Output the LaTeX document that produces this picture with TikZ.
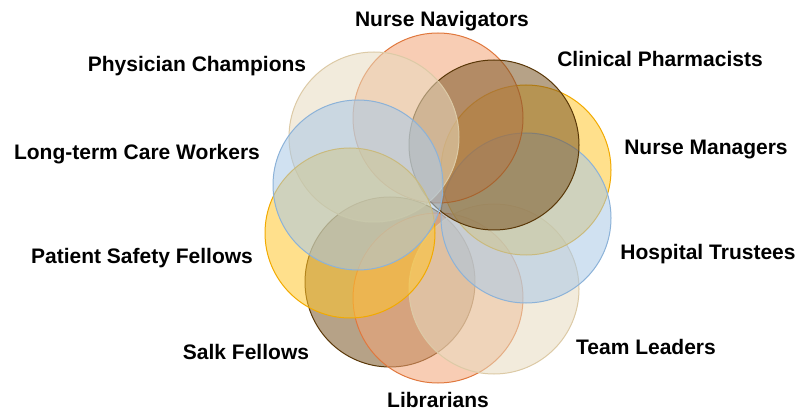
\documentclass[tikz,border=0pt]{standalone}
\usepackage{fontspec}
\setmainfont{Liberation Sans}
\usepackage{xcolor}
\definecolor{orangefill}{HTML}{F2A477}
\definecolor{orangeedge}{HTML}{E0783E}
\definecolor{brownfill}{HTML}{7A5524}
\definecolor{brownedge}{HTML}{5A3808}
\definecolor{goldfill}{HTML}{FFC62E}
\definecolor{goldedge}{HTML}{F2AA00}
\definecolor{bluefill}{HTML}{A9C8E6}
\definecolor{blueedge}{HTML}{8CB2D8}
\definecolor{beigefill}{HTML}{E8DABF}
\definecolor{beigeedge}{HTML}{DCCAA6}

\begin{document}
\begin{tikzpicture}[x=1pt,y=-1pt,
  ring/.style={circle,minimum size=170pt,inner sep=0pt,line width=1pt,fill opacity=0.55,draw opacity=1},
  role/.style={font=\fontsize{21}{25}\selectfont\bfseries,inner sep=0pt,anchor=base}]
\useasboundingbox (0,0) rectangle (798,414);
% ten overlapping circles, back to front
\node [ring,draw=brownedge,fill=brownfill] (salk) at (390,282) {};
\node [ring,draw=orangeedge,fill=orangefill] (lib) at (438,298) {};
\node [ring,draw=beigeedge,fill=beigefill] (lead) at (494,289) {};
\node [ring,draw=goldedge,fill=goldfill] (mgr) at (526,170) {};
\node [ring,draw=blueedge,fill=bluefill] (trust) at (526,218) {};
\node [ring,draw=orangeedge,fill=orangefill] (nav) at (438,118) {};
\node [ring,draw=brownedge,fill=brownfill] (pharm) at (494,145) {};
\node [ring,draw=beigeedge,fill=beigefill] (phys) at (374,137) {};
\node [ring,draw=goldedge,fill=goldfill] (safety) at (350,233) {};
\node [ring,draw=blueedge,fill=bluefill] (ltc) at (358,185) {};
% labels
\node [role] (navtxt) at (442,27) {Nurse Navigators};
\node [role] (pharmtxt) at (660,67) {Clinical Pharmacists};
\node [role] (mgrtxt) at (706,155) {Nurse Managers};
\node [role] (trusttxt) at (708,259) {Hospital Trustees};
\node [role] (leadtxt) at (646,354) {Team Leaders};
\node [role] (libtxt) at (438,407) {Librarians};
\node [role] (salktxt) at (246,359) {Salk Fellows};
\node [role] (safetytxt) at (142,263) {Patient Safety Fellows};
\node [role] (ltctxt) at (137,160) {Long-term Care Workers};
\node [role] (phystxt) at (197,72) {Physician Champions};
\end{tikzpicture}
\end{document}
